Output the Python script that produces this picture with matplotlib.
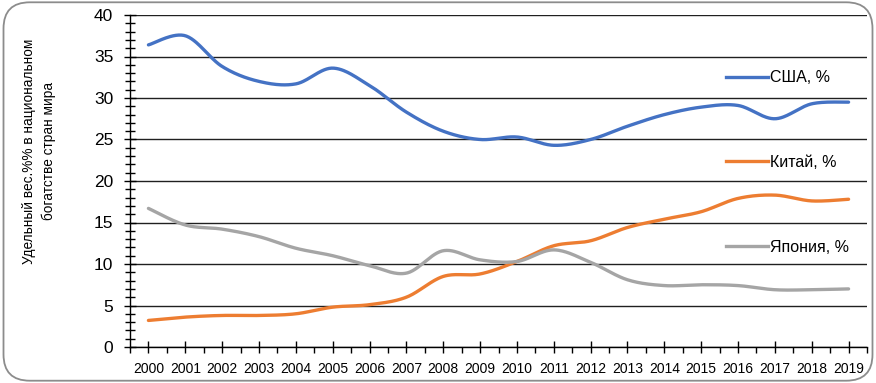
import numpy as np
import matplotlib
matplotlib.use("Agg")
import matplotlib.pyplot as plt
from matplotlib.patches import FancyBboxPatch
from matplotlib.lines import Line2D
from matplotlib.legend import Legend
from matplotlib.ticker import MultipleLocator, FixedLocator

plt.rcParams['font.family'] = ['Liberation Sans', 'DejaVu Sans']

years = list(range(2000, 2020))
usa = [36.4, 37.5, 33.8, 32.0, 31.7, 33.6, 31.5, 28.3, 26.0, 25.0,
       25.3, 24.3, 25.0, 26.6, 28.0, 28.9, 29.1, 27.5, 29.3, 29.5]
china = [3.2, 3.6, 3.8, 3.8, 4.0, 4.8, 5.1, 6.0, 8.5, 8.8,
         10.3, 12.2, 12.8, 14.4, 15.4, 16.3, 17.9, 18.3, 17.6, 17.8]
japan = [16.7, 14.7, 14.2, 13.3, 11.9, 11.0, 9.8, 8.9, 11.6, 10.5,
         10.3, 11.7, 10.2, 8.1, 7.4, 7.5, 7.4, 6.9, 6.9, 7.0]

series_names = ['США, %', 'Китай, %', 'Япония, %']
colors = ['#4472C4', '#ED7D31', '#A5A5A5']
ylabel = 'Удельный вес.%% в национальном\nбогатстве стран мира'


def smooth(x, y, n=30, t=1/6):
    x = np.asarray(x, float)
    y = np.asarray(y, float)
    px, py = [], []
    N = len(x)
    for i in range(N - 1):
        i0 = max(i - 1, 0)
        i3 = min(i + 2, N - 1)
        p0 = np.array([x[i], y[i]])
        p3 = np.array([x[i + 1], y[i + 1]])
        p1 = p0 + t * (np.array([x[i + 1], y[i + 1]]) - np.array([x[i0], y[i0]]))
        p2 = p3 - t * (np.array([x[i3], y[i3]]) - np.array([x[i], y[i]]))
        s = np.linspace(0, 1, n, endpoint=(i == N - 2))
        b = ((1 - s) ** 3)[:, None] * p0 + (3 * (1 - s) ** 2 * s)[:, None] * p1 \
            + (3 * (1 - s) * s ** 2)[:, None] * p2 + (s ** 3)[:, None] * p3
        px.extend(b[:, 0])
        py.extend(b[:, 1])
    return np.array(px), np.array(py)


fig = plt.figure(figsize=(8.76, 3.83), dpi=100)
fig.patches.append(FancyBboxPatch((0.004, 0.006), 0.992, 0.988,
                                  boxstyle="round,pad=0,rounding_size=0.03",
                                  transform=fig.transFigure, facecolor='none',
                                  edgecolor='#8c8c8c', linewidth=1.3,
                                  mutation_aspect=876 / 383))
ax = fig.add_axes([130 / 876, 1 - 347 / 383, 737 / 876, 332 / 383])
ax.set_facecolor('none')

x = np.arange(len(years))
for vals, c in zip([usa, china, japan], colors):
    sx, sy = smooth(x, vals)
    ax.plot(sx, sy, color=c, lw=2.4, solid_capstyle='round', zorder=3)

ax.set_xlim(-0.5, len(years) - 0.5)
ax.set_ylim(0, 40)
ax.yaxis.set_major_locator(MultipleLocator(5))
ax.yaxis.set_minor_locator(MultipleLocator(1))
ax.set_xticks(x)
ax.set_xticklabels([str(y) for y in years], fontsize=10)
ax.xaxis.set_minor_locator(FixedLocator(np.arange(-0.5, len(years), 1.0)))
ax.tick_params(axis='y', which='major', direction='inout', length=8, width=1,
               labelsize=12.5, pad=8, color='black')
ax.tick_params(axis='y', which='minor', direction='inout', length=7, width=1, color='black')
ax.tick_params(axis='x', which='major', direction='inout', length=8, width=1, pad=7)
ax.tick_params(axis='x', which='minor', direction='out', length=4, width=1)

for s in ['top', 'right']:
    ax.spines[s].set_visible(False)
for s in ['left', 'bottom']:
    ax.spines[s].set_color('black')
    ax.spines[s].set_linewidth(1)
ax.yaxis.grid(True, which='major', color='#202020', lw=1)
ax.set_axisbelow(True)

ax.set_ylabel(ylabel, fontsize=9.8, linespacing=1.45)
ax.yaxis.set_label_coords(-(130 - 56) / 737, 0.59)

legend_y = [0.811, 0.557, 0.301]
for name, c, ly in zip(series_names, colors, legend_y):
    lg = Legend(ax, [Line2D([], [], color=c, lw=2.4)], [name],
                loc='center left', bbox_to_anchor=((726 - 130) / 737, ly),
                frameon=False, fontsize=11.5, handlelength=2.6,
                handletextpad=0.15, borderaxespad=0, borderpad=0)
    ax.add_artist(lg)

fig.savefig('out.png', dpi=100)
